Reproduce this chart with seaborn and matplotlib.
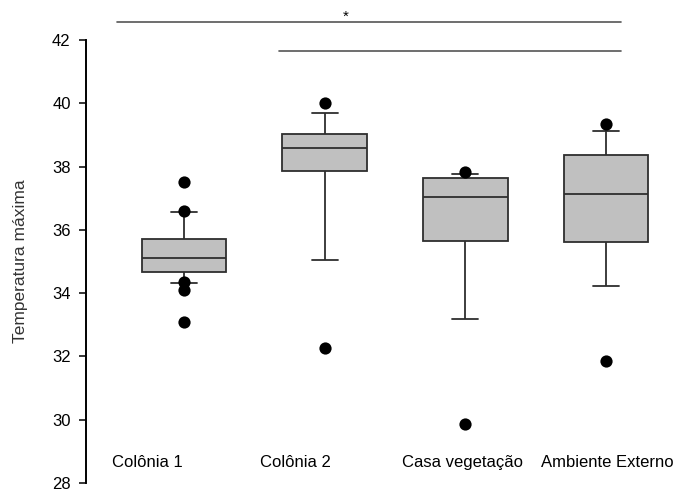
import matplotlib
matplotlib.use("Agg")
import matplotlib.pyplot as plt
import pandas as pd
import seaborn as sns

# box summaries: lower whisker, Q1, median, Q3, upper whisker
groups = ["Colônia 1", "Colônia 2", "Casa vegetação", "Ambiente Externo"]
colonia1_box = [34.33, 34.66, 35.10, 35.72, 36.58]
colonia2_box = [35.05, 37.85, 38.58, 39.04, 39.68]
casa_box = [33.18, 35.65, 37.04, 37.63, 37.76]
externo_box = [34.23, 35.63, 37.14, 38.38, 39.12]

# points outside the whiskers
colonia1_out = [37.50, 36.60, 34.36, 34.10, 33.10]
colonia2_out = [40.00, 32.26]
casa_out = [37.83, 29.86]
externo_out = [39.34, 31.84]

# significance lines (start, end, height) and star
sig_lines = [(-0.476, 3.107, 42.56), (0.675, 3.107, 41.66)]
star_pos = (1.15, 42.62)

box_df = pd.DataFrame({
    "grupo": [g for g, v in zip(groups, [colonia1_box, colonia2_box, casa_box, externo_box]) for _ in v],
    "temp": colonia1_box + colonia2_box + casa_box + externo_box,
})
out_df = pd.DataFrame({
    "grupo": [g for g, v in zip(groups, [colonia1_out, colonia2_out, casa_out, externo_out]) for _ in v],
    "temp": colonia1_out + colonia2_out + casa_out + externo_out,
})

sns.set_style("white")
plt.rcParams["font.family"] = ["Liberation Sans", "DejaVu Sans"]

fig = plt.figure(figsize=(6.77, 4.92), dpi=100)
ax = fig.add_axes([86 / 677, 9 / 492, 591 / 677, 443 / 492])

sns.boxplot(data=box_df, x="grupo", y="temp", order=groups, ax=ax,
            width=0.6, whis=(0, 100), showfliers=False, saturation=1,
            color="#c0c0c0", linecolor="#2e2e2e", linewidth=1.3)

# shorter caps, like the original
for ln in ax.lines:
    xd, yd = ln.get_xdata(), ln.get_ydata()
    if len(xd) == 2 and yd[0] == yd[1] and abs(xd[1] - xd[0]) < 0.45:
        c = (xd[0] + xd[1]) / 2
        ln.set_xdata([c - 0.093, c + 0.093])

sns.stripplot(data=out_df, x="grupo", y="temp", order=groups, ax=ax,
              jitter=False, color="black", size=8.8, linewidth=0)

ax.set_xlim(-0.697, 3.505)
ax.set_ylim(28, 42)
ax.set_yticks([28, 30, 32, 34, 36, 38, 40, 42])
ax.tick_params(axis="y", direction="out", length=5, width=1.1, pad=6,
               labelsize=12, left=True, color="black", labelcolor="black")
ax.set_xticks([])
ax.set_xlabel("")
for sp in ["top", "right", "bottom"]:
    ax.spines[sp].set_visible(False)
ax.spines["left"].set_color("black")
ax.spines["left"].set_linewidth(1.4)

ax.set_ylabel("Temperatura máxima", fontsize=12.5, color="#333333")
ax.yaxis.set_label_coords(-0.098, 0.5)

# category names sit inside the frame, above the bottom
label_x = [-0.263, 0.789, 1.983, 3.01]
for lx, g in zip(label_x, groups):
    ax.text(lx, 28.5, g, ha="center", va="baseline", fontsize=12, color="black")

for x0, x1, y in sig_lines:
    ax.plot([x0, x1], [y, y], color="#555555", lw=1.2, clip_on=False)
ax.text(star_pos[0], star_pos[1], "*", ha="center", va="baseline", fontsize=11,
        color="black")

fig.savefig("out.png", dpi=100)
